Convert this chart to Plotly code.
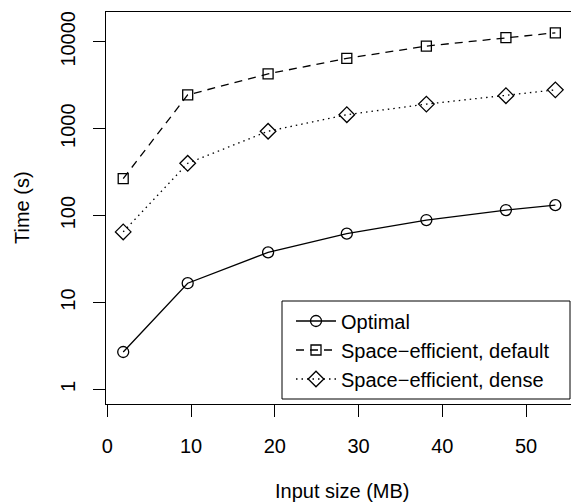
import plotly.graph_objects as go

# Data
input_size_mb = [1.9, 9.6, 19.2, 28.6, 38.1, 47.6, 53.5]
time_optimal = [2.7, 16.7, 37.8, 62, 89, 116, 132]
time_space_default = [267, 2450, 4280, 6450, 8930, 11200, 12700]
time_space_dense = [65, 400, 936, 1450, 1920, 2400, 2800]

series_names = ["Optimal", "Space\u2212efficient, default", "Space\u2212efficient, dense"]
x_tick_vals = [0, 10, 20, 30, 40, 50]
y_tick_vals = [1, 10, 100, 1000, 10000]
y_tick_text = ["1", "10", "100", "1000", "10000"]

FONT = "Liberation Sans, Arial, Helvetica, sans-serif"

fig = go.Figure()
fig.add_trace(go.Scatter(
    x=input_size_mb, y=time_optimal, name=series_names[0], mode="lines+markers",
    line=dict(color="black", width=1.3, dash="solid"),
    marker=dict(symbol="circle-open", size=11, color="black", line=dict(width=1.3, color="black")),
))
fig.add_trace(go.Scatter(
    x=input_size_mb, y=time_space_default, name=series_names[1], mode="lines+markers",
    line=dict(color="black", width=1.3, dash="8px,6px"),
    marker=dict(symbol="square-open", size=10, color="black", line=dict(width=1.3, color="black")),
))
fig.add_trace(go.Scatter(
    x=input_size_mb, y=time_space_dense, name=series_names[2], mode="lines+markers",
    line=dict(color="black", width=1.3, dash="1.5px,4px"),
    marker=dict(symbol="diamond-open", size=12, color="black", line=dict(width=1.3, color="black")),
))

L, R, T, B = 106, 0, 12, 98
W, H = 571, 502
pw, ph = W - L - R, H - T - B

def px_x(p):
    return (p - L) / pw

def px_y(p):
    return (H - B - p) / ph

fig.update_layout(
    width=W, height=H,
    margin=dict(l=L, r=R, t=T, b=B, pad=0),
    paper_bgcolor="white", plot_bgcolor="white",
    font=dict(family=FONT, size=20, color="black"),
    showlegend=True,
    legend=dict(
        x=px_x(291), y=px_y(350), xanchor="left", yanchor="middle",
        borderwidth=0, bgcolor="rgba(0,0,0,0)",
        font=dict(family=FONT, size=20, color="black"),
        tracegroupgap=0, itemwidth=40,
    ),
    xaxis=dict(
        range=[-0.155, 55.37], tickvals=x_tick_vals, ticks="outside", ticklen=12,
        tickwidth=1, tickcolor="black", showline=True, linecolor="black", linewidth=1,
        mirror=True, showgrid=False, zeroline=False, ticklabelstandoff=12,
        tickfont=dict(family=FONT, size=20), automargin=False,
    ),
    yaxis=dict(
        type="log", range=[-0.167, 4.343], tickvals=y_tick_vals, ticktext=y_tick_text,
        ticks="outside", ticklen=12, tickwidth=1, tickcolor="black", showline=True,
        linecolor="black", linewidth=1, mirror=False, showgrid=False, zeroline=False,
        tickangle=-90, ticklabelstandoff=10, tickfont=dict(family=FONT, size=20),
        automargin=False,
    ),
    shapes=[
        dict(type="rect", xref="paper", yref="paper",
             x0=px_x(282), x1=px_x(570), y0=px_y(399), y1=px_y(301),
             line=dict(color="black", width=1), fillcolor="white", layer="above"),
    ],
    annotations=[
        dict(text="Input size (MB)", xref="paper", yref="paper",
             x=px_x(342), y=px_y(491), xanchor="center", yanchor="middle",
             showarrow=False, font=dict(family=FONT, size=20)),
        dict(text="Time (s)", xref="paper", yref="paper",
             x=px_x(22), y=px_y(208), xanchor="center", yanchor="middle",
             textangle=-90, showarrow=False, font=dict(family=FONT, size=20)),
    ],
)

fig.write_html(
    "out.html",
    config={"displayModeBar": False},
    post_script="document.body.style.margin='0';document.body.style.overflow='hidden';",
)
